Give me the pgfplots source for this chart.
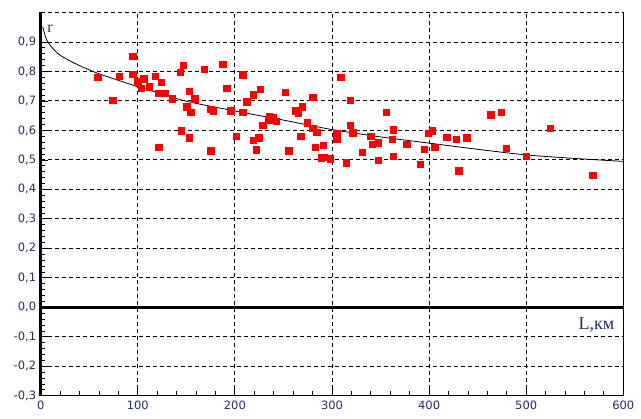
\documentclass[border=0pt]{standalone}
\usepackage{pgfplots}
\pgfplotsset{compat=1.18}
\usepackage{fontspec}
\setmainfont{Liberation Serif}
\newfontfamily\tickfont{DejaVu Sans}
\definecolor{labcol}{RGB}{35,45,100}
\definecolor{ptred}{RGB}{255,0,0}
\begin{document}
\begin{tikzpicture}
\path[use as bounding box] (0,0) rectangle (641pt,419pt);
\begin{axis}[
  at={(40.7pt,23.2pt)}, anchor=south west,
  scale only axis, width=582.6pt, height=383.3pt,
  xmin=0, xmax=600, ymin=-0.3, ymax=1.0,
  axis x line*=bottom, axis y line*=left,
  x axis line style={-, line width=0.8pt},
  y axis line style={-, line width=3pt},
  xtick={0,100,200,300,400,500,600},
  xticklabels={0,100,200,300,400,500,600},
  ytick={-0.3,-0.2,-0.1,0,0.1,0.2,0.3,0.4,0.5,0.6,0.7,0.8,0.9},
  yticklabels={{-0,3},{-0,2},{-0,1},{0,0},{0,1},{0,2},{0,3},{0,4},{0,5},{0,6},{0,7},{0,8},{0,9}},
  minor x tick num=4, minor y tick num=4,
  tick align=inside,
  major tick length=7pt, minor tick length=4.5pt,
  tick style={black, line width=0.8pt},
  grid=major,
  major grid style={black, line width=0.9pt, dash pattern=on 4pt off 3pt},
  tick label style={font=\tickfont\fontsize{11.5}{13}\selectfont, text=labcol},
  xticklabel style={yshift=-2pt},
  yticklabel style={xshift=-1pt},
  clip=false,
]
\draw[black, line width=0.9pt, dash pattern=on 4pt off 3pt] (axis cs:0,1) -- (axis cs:600,1);
\draw[black, line width=0.8pt] (axis cs:600,-0.3) -- (axis cs:600,1);
\draw[black, line width=3pt] (axis cs:0,0) -- (axis cs:600,0);

\addplot[black, line width=0.8pt, smooth, no marks] coordinates {
(2,0.952) (6.2,0.907) (13,0.876) (20,0.855) (33.6,0.830) (47.4,0.809) (61,0.791)
(81.7,0.768) (102,0.746) (123,0.726) (150,0.699) (200,0.666) (250,0.635)
(300,0.603) (350,0.578) (400,0.557) (450,0.536) (500,0.517) (550,0.505) (600,0.495)
};

\addplot[only marks, mark=square*, mark size=3.2pt, color=ptred,
  mark options={draw=ptred, fill=ptred}] coordinates {
(58.7,0.780) (74.2,0.703) (80.9,0.784) (94.7,0.852) (94.7,0.790) (99.9,0.765)
(103.3,0.743) (106.1,0.775) (111.5,0.748) (118.0,0.784) (121.5,0.726) (123.9,0.763)
(128.3,0.726) (121.5,0.544) (135.2,0.707) (143.5,0.798) (146.9,0.821) (153.0,0.734)
(144.8,0.599) (153.0,0.576) (150.4,0.680) (154.5,0.662) (158.6,0.707) (168.2,0.807)
(175.1,0.531) (175.1,0.671) (177.8,0.667) (187.4,0.825) (191.6,0.744) (195.7,0.667)
(201.1,0.581) (208.0,0.789) (208.0,0.662) (212.2,0.698) (218.9,0.721) (225.8,0.739)
(218.9,0.567) (224.5,0.576) (221.7,0.535) (228.6,0.617) (235.4,0.649) (234.8,0.635)
(238.9,0.644) (242.3,0.631) (251.9,0.730) (255.4,0.531) (262.2,0.667) (265.0,0.658)
(269.1,0.680) (267.8,0.581) (274.6,0.626) (280.1,0.712) (280.1,0.608) (284.2,0.594)
(282.8,0.544) (291.0,0.549) (289.0,0.508) (291.8,0.510) (297.9,0.504) (309.0,0.780)
(318.5,0.703) (318.5,0.617) (321.3,0.592) (304.8,0.590) (304.8,0.571) (314.4,0.490)
(330.9,0.526) (339.9,0.581) (341.2,0.553) (347.4,0.558) (347.4,0.499) (355.6,0.662)
(363.1,0.603) (361.8,0.571) (363.1,0.513) (376.9,0.553) (390.6,0.486) (394.7,0.536)
(398.9,0.590) (403.0,0.599) (405.8,0.544) (418.1,0.578) (427.7,0.571) (430.5,0.463)
(438.7,0.576) (463.4,0.653) (474.3,0.662) (479.2,0.540) (499.8,0.513) (524.5,0.608)
(568.5,0.449)
};

\node[font=\fontsize{16}{16}\selectfont, text=labcol, inner sep=1pt] at (axis cs:9.6,0.944) {r};
\node[font=\fontsize{18}{18}\selectfont, text=labcol, fill=white, inner sep=2pt, anchor=east] at (axis cs:593,-0.061) {L,км};
\end{axis}
\end{tikzpicture}
\end{document}
